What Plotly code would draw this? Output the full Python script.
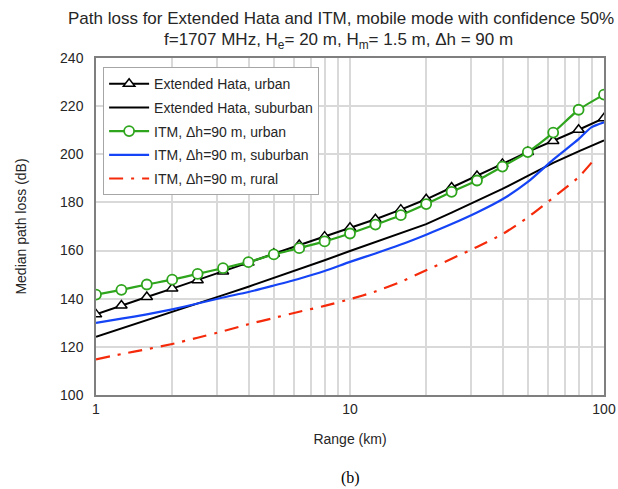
import plotly.graph_objects as go

# ---- data ----
range_km = [1.0, 1.259, 1.585, 1.995, 2.512, 3.162, 3.981, 5.012, 6.310, 7.943,
            10.0, 12.59, 15.85, 19.95, 25.12, 31.62, 39.81, 50.12, 63.10, 79.43, 100.0]

hata_urban = [133.5, 137.2, 140.7, 144.2, 147.7, 151.3, 155.0, 158.7, 162.3, 165.8,
              169.5, 173.0, 177.0, 181.3, 186.2, 191.0, 196.0, 201.0, 205.5, 210.2, 215.0]

hata_suburban = [124.2, 127.6, 131.0, 134.5, 138.0, 141.5, 145.0, 148.6, 152.2, 156.0,
                 159.8, 163.5, 167.3, 171.0, 175.8, 180.7, 185.6, 191.0, 196.4, 201.2, 205.8]

itm_urban = [141.7, 143.7, 145.9, 147.9, 150.3, 152.7, 155.2, 158.4, 161.0, 163.8,
             167.1, 170.8, 174.7, 179.3, 184.4, 189.1, 194.9, 200.9, 209.0, 218.5, 224.8]

itm_sub_x = [1.0, 1.259, 1.585, 1.995, 2.512, 3.162, 3.981, 5.012, 6.310, 7.943,
             10.0, 12.59, 15.85, 19.95, 25.12, 31.62, 39.81, 50.12, 63.10, 79.43, 89.1, 100.0]
itm_suburban = [130.0, 131.7, 133.5, 135.6, 138.0, 140.5, 142.8, 145.5, 148.3, 151.5,
                155.3, 158.8, 162.5, 166.6, 171.0, 175.8, 181.3, 188.5, 197.8, 206.3, 211.2, 213.3]

itm_rural_x = [1.0, 1.259, 1.585, 1.995, 2.512, 3.162, 3.981, 5.012, 6.310, 7.943,
               10.0, 12.59, 15.85, 19.95, 25.12, 31.62, 39.81, 50.12, 63.10, 79.43, 91.0]
itm_rural = [114.8, 117.0, 119.0, 121.2, 123.8, 126.5, 129.4, 132.0, 134.6, 137.0,
             139.8, 143.0, 147.0, 151.8, 156.6, 161.5, 166.8, 173.8, 182.0, 190.5, 197.5]

x_grid = [1, 2, 3, 4, 5, 6, 7, 8, 9, 10, 20, 30, 40, 50, 60, 70, 80, 90, 100]
x_labels = ["1", "", "", "", "", "", "", "", "", "10", "", "", "", "", "", "", "", "", "100"]
y_ticks = [100, 120, 140, 160, 180, 200, 220, 240]

title_line1 = "Path loss for Extended Hata and ITM, mobile mode with confidence 50%"
title_line2 = "f=1707 MHz, H<sub>e</sub>= 20 m, H<sub>m</sub>= 1.5 m, \u0394h = 90 m"

FONT = "Liberation Sans"
TXT = "#262626"

fig = go.Figure()

fig.add_trace(go.Scatter(
    x=range_km, y=hata_urban, name="Extended Hata, urban", mode="lines+markers",
    legendgroup="a",
    line=dict(color="black", width=2),
    marker=dict(symbol="triangle-up", size=10, color="white",
                line=dict(color="black", width=1.5))))

fig.add_trace(go.Scatter(
    x=range_km, y=hata_suburban, name="Extended Hata, suburban", mode="lines",
    legendgroup="b",
    line=dict(color="black", width=2)))

fig.add_trace(go.Scatter(
    x=range_km, y=itm_urban, name="ITM, \u0394h=90 m, urban", mode="lines+markers",
    legendgroup="c",
    line=dict(color="#2ea51c", width=2.2, shape="spline", smoothing=0.6),
    marker=dict(symbol="circle", size=10, color="white",
                line=dict(color="#2ea51c", width=1.8))))

fig.add_trace(go.Scatter(
    x=itm_sub_x, y=itm_suburban, name="ITM, \u0394h=90 m, suburban", mode="lines",
    legendgroup="d",
    line=dict(color="#1444f5", width=2.2, shape="spline", smoothing=0.6)))

fig.add_trace(go.Scatter(
    x=itm_rural_x, y=itm_rural, name="ITM, \u0394h=90 m, rural", mode="lines",
    legendgroup="e",
    line=dict(color="#f52a0a", width=2.2, dash="14px,8px,3px,8px",
              shape="spline", smoothing=0.6)))

fig.update_layout(
    width=618, height=489,
    paper_bgcolor="white", plot_bgcolor="white",
    margin=dict(l=96, r=14, t=58, b=94),
    font=dict(family=FONT, size=14, color=TXT),
    showlegend=True,
    legend=dict(
        x=0.014, y=0.973, xanchor="left", yanchor="top",
        bgcolor="white", bordercolor="#a6a6a6", borderwidth=1,
        font=dict(family=FONT, size=14, color=TXT),
        tracegroupgap=2.5, itemwidth=40),
)

fig.update_xaxes(
    type="log", range=[0, 2], automargin=False,
    tickvals=x_grid, ticktext=x_labels,
    showgrid=True, gridcolor="#d9d9d9", gridwidth=1.5,
    showline=True, linecolor="#7f7f7f", linewidth=1.5, mirror=True,
    ticks="", tickfont=dict(family=FONT, size=14, color=TXT),
    title=dict(text="Range (km)", font=dict(family=FONT, size=14, color=TXT), standoff=19),
    zeroline=False)

fig.update_yaxes(
    range=[100, 240], tickvals=y_ticks, automargin=False,
    showgrid=True, gridcolor="#d9d9d9", gridwidth=1.5,
    showline=True, linecolor="#7f7f7f", linewidth=1.5, mirror=True,
    ticks="", ticklabelstandoff=8, tickfont=dict(family=FONT, size=14, color=TXT),
    title=dict(text="Median path loss (dB)", font=dict(family=FONT, size=14, color=TXT), standoff=30),
    zeroline=False)

fig.add_annotation(
    text=title_line1, xref="paper", yref="paper", x=0.482, y=1.0, yshift=40,
    xanchor="center", yanchor="middle", showarrow=False,
    font=dict(family=FONT, size=17, color=TXT))
fig.add_annotation(
    text=title_line2, xref="paper", yref="paper", x=0.478, y=1.0, yshift=17,
    xanchor="center", yanchor="middle", showarrow=False,
    font=dict(family=FONT, size=17, color=TXT))

fig.add_annotation(
    text="(b)", xref="paper", yref="paper", x=0.5, y=-0.245,
    xanchor="center", yanchor="middle", showarrow=False,
    font=dict(family="Liberation Serif", size=16, color="black"))

fig.write_html("out.html")
